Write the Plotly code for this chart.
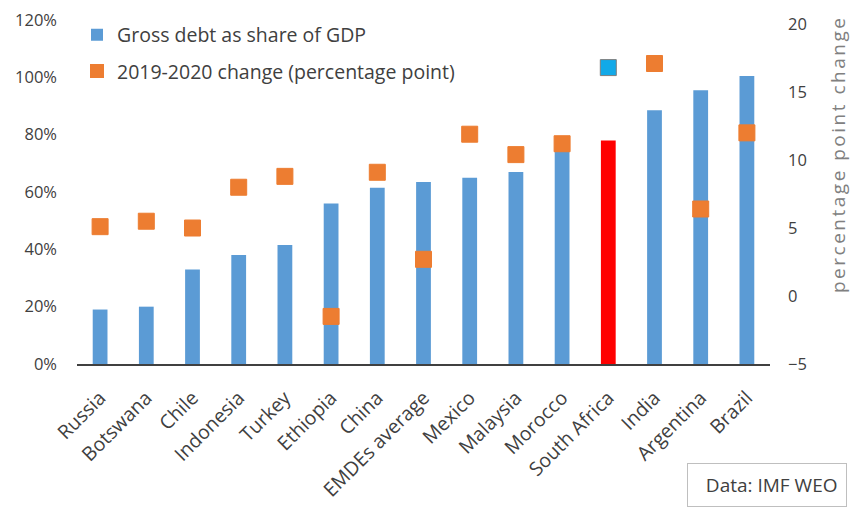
import plotly.graph_objects as go

countries = ["Russia", "Botswana", "Chile", "Indonesia", "Turkey", "Ethiopia", "China",
             "EMDEs average", "Mexico", "Malaysia", "Morocco", "South Africa", "India",
             "Argentina", "Brazil"]
debt_share = [19, 20, 33, 38, 41.5, 56, 61.5, 63.5, 65, 67, 76, 78, 88.5, 95.5, 100.5]
change_pp = [5.1, 5.5, 5.0, 8.0, 8.8, -1.5, 9.1, 2.7, 11.9, 10.4, 11.2, 16.8, 17.1, 6.4, 12.0]
left_ticks = [0, 20, 40, 60, 80, 100, 120]
left_tick_labels = ["0%", "20%", "40%", "60%", "80%", "100%", "120%"]
right_ticks = [-5, 0, 5, 10, 15, 20]

BLUE = "#5B9BD5"
ORANGE = "#ED7D31"
RED = "#FF0000"
CYAN = "#12A9E8"

bar_colors = [RED if c == "South Africa" else BLUE for c in countries]
marker_colors = [CYAN if c == "South Africa" else ORANGE for c in countries]
marker_lines = ["#7F7F7F" if c == "South Africa" else ORANGE for c in countries]

FONT = "Open Sans"
TXT = "#404040"

fig = go.Figure()
fig.add_trace(go.Bar(
    x=countries, y=debt_share, name="Gross debt as share of GDP",
    marker=dict(color=bar_colors, line=dict(width=0)), width=0.32,
    legendgroup="a",
))
fig.add_trace(go.Scatter(
    x=countries, y=change_pp, name="2019-2020 change (percentage point)",
    mode="markers", yaxis="y2",
    marker=dict(symbol="square", size=16, color=marker_colors,
                line=dict(width=1, color=marker_lines)),
    legendgroup="b",
))

fig.update_layout(
    width=850, height=511,
    margin=dict(l=77, r=80, t=20, b=147),
    paper_bgcolor="white", plot_bgcolor="white",
    font=dict(family=FONT, color=TXT, size=17),
    showlegend=True,
    legend=dict(x=0.0, y=1.013, xanchor="left", yanchor="top", itemsizing="constant",
                bgcolor="rgba(0,0,0,0)", font=dict(size=19.5, color=TXT, family=FONT),
                tracegroupgap=8, itemwidth=30),
    xaxis=dict(type="category", tickangle=-45, showline=True, linecolor="#404040",
               linewidth=1.5, ticks="", showgrid=False, zeroline=False, automargin=False,
               tickfont=dict(size=19.5, color=TXT, family=FONT), range=[-0.5, 14.5],
               ticklabelstandoff=13),
    yaxis=dict(range=[0, 120], tickvals=left_ticks, ticktext=left_tick_labels,
               showgrid=False, zeroline=False, showline=False, ticks="", automargin=False,
               tickfont=dict(size=16.5, color=TXT, family=FONT), ticklabelstandoff=19),
    yaxis2=dict(range=[-5, 20.3], tickvals=right_ticks, overlaying="y", side="right",
                showgrid=False, zeroline=False, showline=False, ticks="", automargin=False,
                tickfont=dict(size=16.5, color=TXT, family=FONT), ticklabelstandoff=17),
    annotations=[
        dict(text='<span style="letter-spacing:2.5px">percentage point change</span>',
             textangle=-90, xref="paper", yref="paper",
             x=(838 - 77) / 693, y=(364 - 155) / 344, xanchor="center", yanchor="middle",
             showarrow=False, font=dict(size=19, color="#808080", family=FONT)),
        dict(text="\u00a0\u00a0Data: IMF WEO", xref="paper", yref="paper",
             x=(687 - 77) / 693, y=-(507 - 364) / 344, xanchor="left", yanchor="bottom",
             showarrow=False, bordercolor="#BFBFBF", borderwidth=1, borderpad=8,
             bgcolor="white", font=dict(size=19, color=TXT, family=FONT)),
    ],
)

fig.write_html("out.html")
